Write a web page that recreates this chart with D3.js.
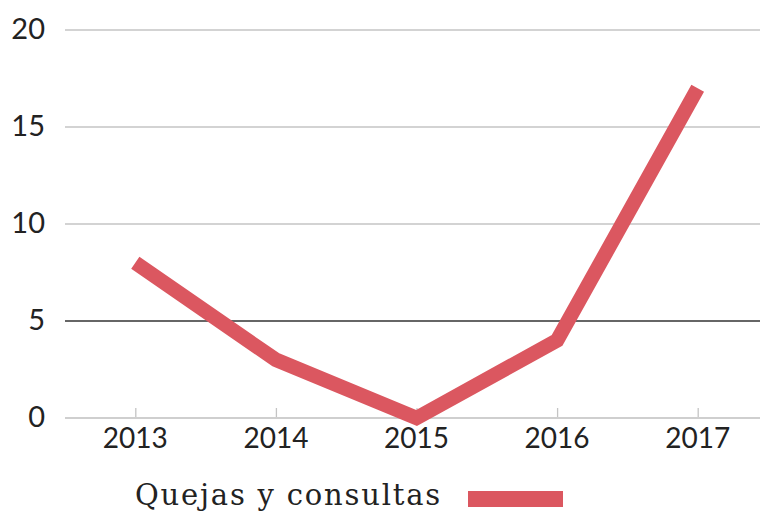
<!DOCTYPE html>
<html>
<head>
<meta charset="utf-8">
<script src="https://cdn.jsdelivr.net/npm/d3@7"></script>
<style>
  body { margin: 0; background: #fff; }
  svg { display: block; }
</style>
</head>
<body>
<div id="chart"></div>
<script>
// datos
const years = ["2013", "2014", "2015", "2016", "2017"];
const quejas = [8, 3, 0, 4, 17];
const yTicks = [0, 5, 10, 15, 20];
const serieNombre = "Quejas y consultas";

const width = 760, height = 516;
const rojo = "#db5760";

const svg = d3.select("#chart").append("svg")
  .attr("width", width)
  .attr("height", height);

// escalas
const x = d3.scalePoint()
  .domain(years)
  .range([65, 768])
  .padding(0.5);

const y = d3.scaleLinear()
  .domain([0, 20])
  .range([418, 30]);

// grilla
svg.append("g")
  .selectAll("line")
  .data(yTicks.filter(d => d > 0))
  .enter().append("line")
  .attr("x1", 65)
  .attr("x2", width)
  .attr("y1", d => y(d))
  .attr("y2", d => y(d))
  .attr("stroke", d => d === 5 ? "#333" : "#c4c4c4")
  .attr("stroke-width", 1.3);

// etiquetas eje y
svg.append("g")
  .selectAll("text")
  .data(yTicks)
  .enter().append("text")
  .attr("x", 45)
  .attr("y", d => y(d) - 1)
  .attr("dy", "0.35em")
  .attr("text-anchor", "end")
  .style("font-family", "Lato, sans-serif")
  .style("font-size", "29px")
  .style("fill", "#222")
  .text(d => d);

// eje x
const xAxis = svg.append("g")
  .attr("transform", "translate(0," + y(0) + ")")
  .call(d3.axisTop(x).tickSize(10).tickFormat(""));
xAxis.select(".domain").remove();
xAxis.selectAll(".tick line").attr("stroke", "#c4c4c4").attr("stroke-width", 1.3);

svg.append("line")
  .attr("x1", 65).attr("x2", width)
  .attr("y1", y(0)).attr("y2", y(0))
  .attr("stroke", "#cfcfcf")
  .attr("stroke-width", 2);

svg.append("g")
  .selectAll("text")
  .data(years)
  .enter().append("text")
  .attr("x", d => x(d))
  .attr("y", 448)
  .attr("text-anchor", "middle")
  .style("font-family", "Lato, sans-serif")
  .style("font-size", "28px")
  .style("fill", "#222")
  .text(d => d);

// linea
const line = d3.line()
  .x((d, i) => x(years[i]))
  .y(d => y(d));

svg.append("path")
  .datum(quejas)
  .attr("d", line)
  .attr("fill", "none")
  .attr("stroke", rojo)
  .attr("stroke-width", 14.5)
  .attr("stroke-linejoin", "miter")
  .attr("stroke-linecap", "butt");

// leyenda
svg.append("text")
  .attr("x", 135)
  .attr("y", 505)
  .style("font-family", "'DejaVu Serif', serif")
  .style("font-size", "29px")
  .style("letter-spacing", "1.8px")
  .style("fill", "#222")
  .text(serieNombre);

svg.append("rect")
  .attr("x", 468)
  .attr("y", 491)
  .attr("width", 95)
  .attr("height", 16)
  .attr("fill", rojo);
</script>
</body>
</html>
